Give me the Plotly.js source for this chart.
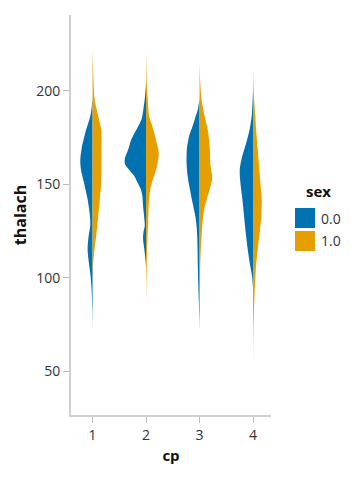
<!DOCTYPE html>
<html>
<head>
<meta charset="utf-8">
<script src="https://cdn.plot.ly/plotly-3.0.1.min.js"></script>
<style>html,body{margin:0;padding:0;background:#fff;}#chart{width:352px;height:481px;}</style>
</head>
<body>
<div id="chart"></div>
<script>
// Categories
const cpCategories = [1, 2, 3, 4];
const sexLabels = ['0.0', '1.0'];
const sexColors = ['#0072B2', '#E69F00'];

// Density profiles: thalach values and relative density (half width)
const cp1_sex0_thalach = [196, 187, 178, 169, 163, 158, 151, 142, 133, 128, 122, 115, 108, 101, 94, 83, 72];
const cp1_sex0_density = [0, 2, 7, 11, 12.3, 11.7, 8.7, 5, 2.6, 2.3, 4, 5, 3.7, 2, 1, 0.3, 0];
const cp1_sex1_thalach = [222, 204.5, 195.5, 186.6, 181, 177.7, 168.75, 160, 151, 142, 133, 124, 115, 108, 100];
const cp1_sex1_density = [0, 1, 2, 5.7, 8, 9, 9, 9, 8.7, 7.3, 5.7, 4, 2, 0.7, 0];

const cp2_sex0_thalach = [204, 195.5, 190, 186.6, 184, 179.5, 174, 168.75, 163.4, 160.7, 154.5, 151, 147.3, 143.75, 138.4, 133, 127.7, 124, 120.5, 115, 108, 105];
const cp2_sex0_density = [0, 1.3, 2.7, 3.7, 5, 9.3, 14.7, 17.7, 21.3, 21, 12, 8.7, 5.3, 3.7, 3, 2, 1.3, 2.7, 3, 1.7, 0.3, 0];
const cp2_sex1_thalach = [221, 204.5, 195.5, 186.6, 181, 176, 170.5, 167, 163.4, 158, 152.7, 147.3, 142, 133, 124, 115, 106, 97, 86];
const cp2_sex1_density = [0, 0.7, 1.7, 3, 6.3, 9, 11.3, 12.7, 12.3, 10.3, 7, 4.3, 3, 2.3, 1.7, 1, 0.7, 0.3, 0];

const cp3_sex0_thalach = [196, 190, 186.6, 181, 176, 168.75, 161.6, 154.5, 147.3, 140, 133, 127.7, 122, 115, 106, 97, 88, 79.5, 72];
const cp3_sex0_density = [0, 1.7, 3.7, 7, 10.3, 12.7, 13, 12, 9.7, 7, 4.3, 3, 2.3, 2, 1.7, 1.3, 0.7, 0.3, 0];
const cp3_sex1_thalach = [215, 204.5, 195.5, 186.6, 177.7, 168.75, 160, 153.6, 147.3, 142, 136.6, 129.5, 122, 115, 106, 97, 93];
const cp3_sex1_density = [0, 0.7, 2, 5, 8.7, 10.3, 11, 12.7, 10.3, 7.3, 4.7, 3, 2, 1.3, 0.7, 0.3, 0];

const cp4_sex0_thalach = [200, 186.6, 179.5, 172.3, 165.2, 158, 151, 142, 133, 124, 115, 106, 101, 97, 94];
const cp4_sex0_density = [0, 1.3, 3.3, 6.7, 10.7, 13.3, 12.7, 10.7, 9, 7.3, 5.3, 2.7, 1, 0.3, 0];
const cp4_sex1_thalach = [212, 199, 186.6, 177.7, 168.75, 160, 151, 142, 133, 124, 115, 106, 97, 88, 79.5, 70.5, 53];
const cp4_sex1_density = [0, 0.7, 2.3, 3.3, 4.7, 6, 7.3, 8.7, 8.3, 6.7, 4.7, 3, 2, 1.3, 0.7, 0.3, 0];

const profiles = [
  [[cp1_sex0_thalach, cp1_sex0_density], [cp1_sex1_thalach, cp1_sex1_density]],
  [[cp2_sex0_thalach, cp2_sex0_density], [cp2_sex1_thalach, cp2_sex1_density]],
  [[cp3_sex0_thalach, cp3_sex0_density], [cp3_sex1_thalach, cp3_sex1_density]],
  [[cp4_sex0_thalach, cp4_sex0_density], [cp4_sex1_thalach, cp4_sex1_density]]
];

const densityScale = 1 / 53.6; // density units -> category-axis units

const traces = [];
cpCategories.forEach((cp, ci) => {
  [0, 1].forEach(si => {
    const [ty, dens] = profiles[ci][si];
    const dir = si === 0 ? -1 : 1;
    traces.push({
      type: 'scatter',
      mode: 'lines',
      x: dens.map(d => cp + dir * d * densityScale),
      y: ty,
      fill: 'toself',
      fillcolor: sexColors[si],
      line: {color: sexColors[si], width: 0, shape: 'spline', smoothing: 0.8},
      hoverinfo: 'skip',
      showlegend: false
    });
  });
});

const fontFam = '"Open Sans", "Noto Sans", sans-serif';
const shapes = [];
const annotations = [];
// legend
const legX0 = (295 - 71) / 200, legX1 = (315 - 71) / 200;
sexLabels.forEach((lab, i) => {
  const top = 208 + i * 23;
  shapes.push({
    type: 'rect', xref: 'paper', yref: 'paper',
    x0: legX0, x1: legX1,
    y0: (415 - top) / 400, y1: (415 - top - 20) / 400,
    fillcolor: sexColors[i], line: {width: 0}
  });
  annotations.push({
    xref: 'paper', yref: 'paper', x: (319 - 71) / 200, y: (415 - top - 10) / 400,
    xanchor: 'left', yanchor: 'middle', showarrow: false,
    text: lab, font: {family: fontFam, size: 14, color: '#333'}
  });
});
annotations.push({
  xref: 'paper', yref: 'paper', x: (318 - 71) / 200, y: (415 - 191) / 400,
  xanchor: 'center', yanchor: 'middle', showarrow: false,
  text: '<b>sex</b>', font: {family: fontFam, size: 15, color: '#111'}
});

const layout = {
  width: 352, height: 481,
  margin: {l: 71, r: 81, t: 15, b: 66},
  paper_bgcolor: '#fff', plot_bgcolor: '#fff',
  showlegend: false,
  xaxis: {
    range: [0.597, 4.336],
    tickvals: cpCategories, ticktext: cpCategories.map(String),
    showgrid: false, zeroline: false,
    showline: true, linecolor: '#cfcfcf', linewidth: 2,
    ticks: 'outside', ticklen: 6, tickcolor: '#bbb', tickwidth: 1,
    tickfont: {family: fontFam, size: 14, color: '#333'},
    title: {text: '<b>cp</b>', font: {family: fontFam, size: 15, color: '#111'}, standoff: 8}
  },
  yaxis: {
    range: [26.5, 240.5],
    tickvals: [50, 100, 150, 200],
    showgrid: false, zeroline: false,
    showline: true, linecolor: '#cfcfcf', linewidth: 2,
    ticks: 'outside', ticklen: 6, tickcolor: '#bbb', tickwidth: 1,
    tickfont: {family: fontFam, size: 14, color: '#333'},
    title: {text: '<b>thalach</b>', font: {family: fontFam, size: 16, color: '#111'}, standoff: 6}
  },
  shapes: shapes,
  annotations: annotations
};

Plotly.newPlot('chart', traces, layout, {displayModeBar: false, staticPlot: true});
</script>
</body>
</html>
